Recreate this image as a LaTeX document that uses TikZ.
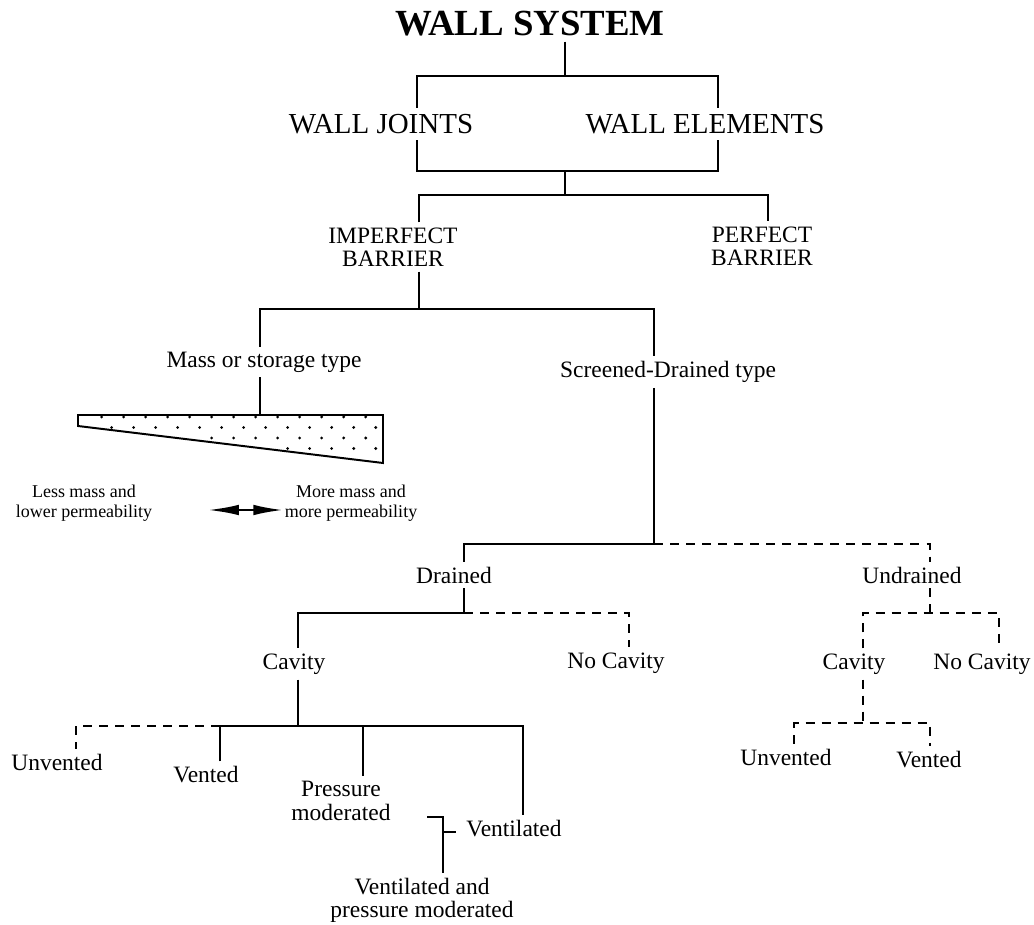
\documentclass[tikz,border=0pt]{standalone}
\usepackage{fontspec}
\setmainfont{Liberation Serif}
\usetikzlibrary{arrows.meta}

\begin{document}
\begin{tikzpicture}[x=0.025cm,y=-0.025cm,line width=1.4pt,
  ttl/.style={font=\fontsize{26.2}{30}\selectfont\bfseries,inner sep=3pt},
  big/.style={font=\fontsize{20.6}{24}\selectfont,inner sep=4pt},
  lbl/.style={font=\fontsize{16.7}{16.5}\selectfont,inner sep=3pt,align=center},
  sml/.style={font=\fontsize{12.8}{14.2}\selectfont,inner sep=2pt,align=center},
  dsh/.style={dash pattern=on 6.4pt off 5pt}]
\useasboundingbox[fill=white] (0,0) rectangle (1034,925);

\node[ttl] (sys)    at (530,24)  {WALL SYSTEM};
\node[big] (joints) at (381,124) {WALL JOINTS};
\node[big] (elems)  at (705,124) {WALL ELEMENTS};
\node[lbl] (imp)    at (393,247) {IMPERFECT\\BARRIER};
\node[lbl] (perf)   at (762,246) {PERFECT\\BARRIER};
\node[lbl] (mass)   at (264,362) {Mass or storage type};
\node[lbl] (scr)    at (668,372) {Screened-Drained type};
\node[sml] (less)   at (84,503)  {Less mass and\\lower permeability};
\node[sml] (more)   at (351,503) {More mass and\\more permeability};
\node[lbl] (drn)    at (454,575) {Drained};
\node[lbl] (udr)    at (912,575) {Undrained};
\node[lbl] (cav)    at (294,664) {Cavity};
\node[lbl] (ncav)   at (616,663) {No Cavity};
\node[lbl] (ucav)   at (854,664) {Cavity};
\node[lbl] (uncav)  at (982,664) {No Cavity};
\node[lbl] (unv)    at (57,762)  {Unvented};
\node[lbl] (vnt)    at (206,775) {Vented};
\node[lbl] (prs)    at (341,801) {Pressure\\moderated};
\node[lbl] (vtl)    at (514,829) {Ventilated};
\node[lbl] (vpm)    at (422,900) {Ventilated and\\pressure moderated};
\node[lbl] (uunv)   at (786,757) {Unvented};
\node[lbl] (uvnt)   at (929,760) {Vented};

\coordinate (j1)  at (565,76);
\coordinate (j1l) at (417,76);
\coordinate (j1r) at (718,76);
\coordinate (j2)  at (565,171);
\coordinate (j2l) at (417,171);
\coordinate (j2r) at (718,171);
\draw (sys.south -| j1) -- (j1);
\draw (joints.north -| j1l) -- (j1l) -- (j1r) -- (elems.north -| j1r);
\draw (joints.south -| j2l) -- (j2l) -- (j2r) -- (elems.south -| j2r);

\coordinate (j3)  at (565,195);
\coordinate (j3l) at (419,195);
\coordinate (j3r) at (768,195);
\draw (j2) -- (j3);
\draw (imp.north -| j3l) -- (j3l) -- (j3r) -- (perf.north -| j3r);

\coordinate (j4)  at (419,309);
\coordinate (j4l) at (260,309);
\coordinate (j4r) at (654,309);
\draw (imp.south -| j4) -- (j4);
\draw (mass.north -| j4l) -- (j4l) -- (j4r) -- (scr.north -| j4r);

\coordinate (wtop) at (260,415);
\draw (mass.south -| wtop) -- (wtop);
\draw[fill=white] (78,415) -- (383,415) -- (383,463) -- (78,426) -- cycle;
\foreach \yy/\xs/\n in {417/101.7/12,427.5/111.7/12,438/211.7/7,448.5/287.7/4}
  \foreach \k in {0,...,\n}
    \fill (\xs+22*\k,\yy) circle[radius=1.1pt];

\coordinate (al) at (208,510);
\coordinate (ar) at (283,510);
\draw[{Latex[length=22pt,width=7.5pt]}-{Latex[length=21pt,width=7.5pt]},line width=1.6pt] (al) -- (ar);

\coordinate (j5)  at (654,544);
\coordinate (j5l) at (464,544);
\coordinate (j5r) at (930,544);
\draw (scr.south -| j5) -- (j5) -- (j5l) -- (drn.north -| j5l);
\draw[dsh] (j5) -- (j5r) -- (udr.north -| j5r);

\coordinate (j6)  at (464,613);
\coordinate (j6l) at (298,613);
\coordinate (j6r) at (629,613);
\draw (drn.south -| j6) -- (j6) -- (j6l) -- (cav.north -| j6l);
\draw[dsh] (j6) -- (j6r) -- (ncav.north -| j6r);

\coordinate (j7)  at (298,726);
\coordinate (j7a) at (76,726);
\coordinate (j7b) at (220,726);
\coordinate (j7c) at (363,726);
\coordinate (j7d) at (523,726);
\draw (cav.south -| j7) -- (j7);
\draw[dsh] (j7b) -- (j7a) -- (unv.north -| j7a);
\draw (vnt.north -| j7b) -- (j7b) -- (j7d) -- (vtl.north -| j7d);
\draw (j7c) -- (prs.north -| j7c);

\coordinate (k1) at (443,817);
\coordinate (k2) at (443,832);
\draw (vpm.north -| k1) -- (k1) -- ++(-16,0);
\draw[shorten >=4pt] (k2) -- (k2 -| vtl.west);

\coordinate (j8)  at (930,613);
\coordinate (j8l) at (863,613);
\coordinate (j8r) at (999,613);
\draw[dsh] (udr.south -| j8) -- (j8);
\draw[dsh] (ucav.north -| j8l) -- (j8l) -- (j8r) -- (uncav.north -| j8r);

\coordinate (j9)  at (863,723);
\coordinate (j9l) at (794,723);
\coordinate (j9r) at (930,723);
\draw[dsh] (ucav.south -| j9) -- (j9);
\draw[dsh] (uunv.north -| j9l) -- (j9l) -- (j9r) -- (uvnt.north -| j9r);
\end{tikzpicture}
\end{document}
